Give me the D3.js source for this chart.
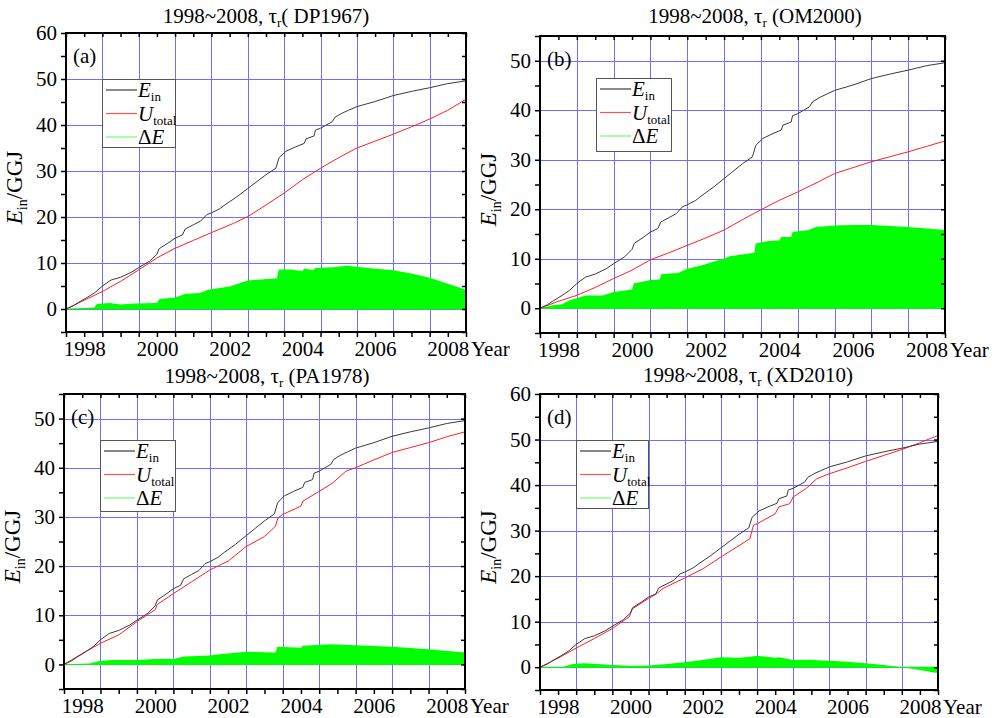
<!DOCTYPE html>
<html>
<head>
<meta charset="utf-8">
<script src="https://cdn.jsdelivr.net/npm/d3@7"></script>
<style>
  body { margin: 0; background: #fff; }
</style>
</head>
<body>
<svg id="chart" width="996" height="718"></svg>
<script>
// ---- data (year, GJ) ----
const yearLabels = [1998, 2000, 2002, 2004, 2006, 2008];
const models = ["DP1967", "OM2000", "PA1978", "XD2010"];
const tags = ["(a)", "(b)", "(c)", "(d)"];
const yTop = [60, 55, 55, 60];

// E_in is the same in every panel
const ein = [[1998.0,0],[1998.2,0.7],[1998.34,1.4],[1998.6,2.6],[1998.8,3.6],[1999.0,5.0],[1999.24,6.3],[1999.5,6.9],
  [1999.8,8.0],[2000.0,9.0],[2000.3,10.4],[2000.5,11.9],[2000.56,13.1],[2000.8,14.3],[2001.0,15.4],[2001.2,16.1],
  [2001.28,17.4],[2001.5,18.3],[2001.7,19.1],[2001.87,20.5],[2002.0,20.9],[2002.23,21.8],[2002.4,22.8],[2002.7,24.4],
  [2003.0,26.2],[2003.25,27.7],[2003.5,29.2],[2003.77,30.6],[2003.86,32.9],[2004.05,34.3],[2004.3,35.2],[2004.55,36.0],
  [2004.6,37.0],[2004.82,37.6],[2004.86,38.9],[2005.0,39.3],[2005.32,40.7],[2005.4,41.7],[2005.6,42.6],[2005.77,43.2],
  [2006.0,44.0],[2006.5,45.1],[2007.0,46.4],[2007.5,47.3],[2008.0,48.1],[2008.5,49.0],[2009.0,49.6]];

const utotalDP = [[1998,0],[1998.5,1.9],[1999,3.8],[1999.5,6.0],[2000,8.5],[2000.5,11.1],[2001,13.2],[2001.5,14.9],
  [2002,16.6],[2002.6,18.6],[2003,20.1],[2003.5,22.6],[2004,25.2],[2004.5,28.1],[2005,30.6],[2005.5,32.9],[2006,35.0],
  [2006.5,36.5],[2007,38.0],[2007.5,39.6],[2008,41.3],[2008.5,43.2],[2009,45.6]];
const dEDP = [[1998,0],[1998.5,0.2],[1998.78,0.3],[1998.85,1.1],[1999.2,1.3],[1999.5,1.0],[1999.9,1.2],[2000.5,1.3],
  [2000.57,2.2],[2001,2.5],[2001.3,3.3],[2001.7,3.5],[2001.9,4.2],[2002.5,4.9],[2003,6.2],[2003.8,6.7],[2003.85,8.6],
  [2004.2,8.6],[2004.5,8.2],[2004.55,8.8],[2004.8,8.4],[2004.85,8.9],[2005.35,9.1],[2005.72,9.4],[2006.3,8.9],
  [2007,8.4],[2007.5,7.7],[2008,6.8],[2008.5,5.5],[2009,4.2]];

const utotalOM = [[1998,0],[1998.5,1.4],[1999,2.6],[1999.5,4.2],[2000,6.0],[2000.5,7.7],[2001,9.8],[2001.5,11.2],
  [2002,12.7],[2002.5,14.2],[2003,15.8],[2003.5,17.9],[2004,19.9],[2004.5,21.8],[2005,23.5],[2005.5,25.3],[2006,27.2],
  [2006.5,28.4],[2007,29.6],[2007.5,30.6],[2008,31.6],[2008.5,32.7],[2009,33.8]];
const dEOM = [[1998,0],[1998.34,0.6],[1998.6,0.8],[1998.8,1.6],[1999,2.0],[1999.25,2.6],[1999.7,2.6],[2000,3.3],
  [2000.5,3.8],[2000.55,5.0],[2001,5.7],[2001.25,5.8],[2001.3,6.9],[2001.75,7.1],[2002,8.0],[2002.4,8.7],[2002.8,9.6],
  [2003,10.0],[2003.15,10.5],[2003.82,11.2],[2003.86,13.1],[2004.2,13.6],[2004.5,13.7],[2004.55,14.4],[2004.82,14.4],
  [2004.86,15.4],[2005.3,15.8],[2005.5,16.4],[2006,16.7],[2006.5,16.8],[2007,16.8],[2007.5,16.6],[2008,16.4],
  [2008.5,16.1],[2009,15.8]];

const utotalPA = [[1998,0],[1998.43,1.9],[1999,4.3],[1999.5,6.0],[2000,8.7],[2000.5,11.1],[2000.56,12.2],[2001,14.4],
  [2001.5,16.8],[2002,19.2],[2002.5,21.0],[2003,24.0],[2003.5,26.0],[2003.8,28.1],[2003.87,29.8],[2004,30.5],
  [2004.5,32.2],[2004.55,33.2],[2005,35.2],[2005.37,36.9],[2005.73,39.3],[2006,40.0],[2006.5,41.6],[2007,43.1],
  [2007.5,44.1],[2008,45.1],[2008.5,46.3],[2009,47.3]];
const dEPA = [[1998,0],[1998.7,0.2],[1998.98,0.7],[1999.3,0.9],[2000,0.9],[2000.5,1.1],[2001,1.1],[2001.3,1.6],
  [2002,1.8],[2002.2,2.0],[2003,2.6],[2003.8,2.4],[2003.85,3.6],[2004.5,3.4],[2004.55,3.8],[2004.8,3.9],[2005.3,4.1],
  [2006,3.9],[2007,3.6],[2008,3.1],[2009,2.4]];

const utotalXD = [[1998,0],[1998.5,2.0],[1999,4.2],[1999.5,6.3],[2000,8.5],[2000.47,11.1],[2000.55,12.8],[2001,15.1],
  [2001.2,16.0],[2001.4,17.3],[2002,19.6],[2002.5,21.6],[2003,24.2],[2003.8,28.2],[2003.9,31.2],[2004,31.5],
  [2004.5,33.7],[2004.6,35.2],[2004.9,35.9],[2005,37.4],[2005.35,39.2],[2005.65,41.4],[2006,42.5],[2006.5,43.8],
  [2007,45.2],[2007.5,46.5],[2008,47.8],[2008.5,49.3],[2009,50.9]];
const dEXD = [[1998,0],[1998.6,0],[1998.9,0.7],[1999.2,0.9],[1999.6,0.7],[2000,0.5],[2000.5,0.3],[2001,0.4],
  [2001.5,0.7],[2002,1.1],[2002.5,1.6],[2003,2.2],[2003.5,2.1],[2003.8,2.3],[2004,2.5],[2004.5,2.1],[2004.6,2.2],
  [2005,1.6],[2005.5,1.6],[2006,1.4],[2006.5,1.2],[2007,0.9],[2007.5,0.5],[2008,0.0],[2008.5,-0.6],[2009,-1.3]];

const utotals = [utotalDP, utotalOM, utotalPA, utotalXD];
const deltas = [dEDP, dEOM, dEPA, dEXD];

// ---- layout ----
const boxes = [
  {left: 66, right: 466, top: 33, bottom: 332, titleX: 266, titleY: 23, leg: [102, 79, 73, 68]},
  {left: 540, right: 945, top: 36, bottom: 333, titleX: 755, titleY: 23, leg: [596, 78, 75, 73]},
  {left: 64, right: 465, top: 394, bottom: 689, titleX: 267, titleY: 383, leg: [100, 440, 75, 71]},
  {left: 540, right: 938, top: 394, bottom: 690, titleX: 748, titleY: 382, leg: [576, 440, 72, 68]}
];
const gridColor = "#6e6eff";
const colEin = "#3a3a3a", colU = "#ff2020", colDE = "#00ff00";
const FONT = "Liberation Serif";
const crisp = v => Math.round(v) + 0.5;

const svg = d3.select("#chart");

function label(parent, size) {
  return parent.append("text").style("font-family", FONT).style("font-size", size + "px");
}

boxes.forEach((b, i) => {
  const x = d3.scaleLinear().domain([1998, 2009]).range([b.left, b.right]);
  const y = d3.scaleLinear().domain([-5, yTop[i]]).range([b.bottom, b.top]);
  const g = svg.append("g");

  g.append("clipPath").attr("id", "clip" + i)
    .append("rect").attr("x", b.left).attr("y", b.top)
    .attr("width", b.right - b.left).attr("height", b.bottom - b.top);

  // grid
  g.append("g").selectAll("line").data(d3.range(1999, 2009)).enter().append("line")
    .attr("x1", d => crisp(x(d))).attr("x2", d => crisp(x(d))).attr("y1", b.top).attr("y2", b.bottom)
    .attr("stroke", gridColor).attr("stroke-width", 1);
  g.append("g").selectAll("line").data(d3.range(0, yTop[i] + 0.1, 10)).enter().append("line")
    .attr("x1", b.left).attr("x2", b.right).attr("y1", d => crisp(y(d))).attr("y2", d => crisp(y(d)))
    .attr("stroke", gridColor).attr("stroke-width", 1);

  const plot = g.append("g").attr("clip-path", "url(#clip" + i + ")");

  // delta E filled area
  plot.append("path").datum(deltas[i])
    .attr("d", d3.area().x(d => x(d[0])).y0(y(0)).y1(d => y(d[1])))
    .attr("fill", colDE);
  plot.append("line").attr("x1", b.left).attr("x2", b.right).attr("y1", y(0)).attr("y2", y(0))
    .attr("stroke", colDE).attr("stroke-width", 1);

  const line = d3.line().x(d => x(d[0])).y(d => y(d[1]));
  plot.append("path").datum(utotals[i]).attr("d", line)
    .attr("fill", "none").attr("stroke", colU).attr("stroke-width", 1);
  plot.append("path").datum(ein).attr("d", line)
    .attr("fill", "none").attr("stroke", colEin).attr("stroke-width", 1);

  // axes
  const halfYears = d3.range(1998, 2009.01, 0.5);
  const fives = d3.range(-5, yTop[i] + 0.1, 5);
  const styleAxis = sel => {
    sel.select(".domain").remove();
    sel.selectAll(".tick line").attr("stroke", "#000").attr("stroke-width", 1.5);
    sel.selectAll(".tick text").attr("fill", "#000")
      .style("font-family", FONT).style("font-size", "21px");
  };
  g.append("g").attr("transform", `translate(0,${b.bottom})`)
    .call(d3.axisBottom(x).tickValues(halfYears).tickSize(5).tickFormat(""))
    .call(styleAxis);
  g.append("g").attr("transform", `translate(0,${b.bottom})`)
    .call(d3.axisBottom(x).tickValues(yearLabels.map(v => v + 0.5)).tickSize(0).tickPadding(9)
      .tickFormat(d => Math.floor(d)))
    .call(styleAxis);
  g.append("g").attr("transform", `translate(0,${b.top})`)
    .call(d3.axisTop(x).tickValues(halfYears).tickSize(-4).tickFormat(""))
    .call(styleAxis);
  g.append("g").attr("transform", `translate(${b.left},0)`)
    .call(d3.axisLeft(y).tickValues(fives).tickSize(5).tickPadding(4)
      .tickFormat(d => d % 10 === 0 ? d : ""))
    .call(styleAxis);
  g.append("g").attr("transform", `translate(${b.right},0)`)
    .call(d3.axisRight(y).tickValues(fives).tickSize(-4).tickFormat(""))
    .call(styleAxis);

  g.append("rect").attr("x", b.left).attr("y", b.top)
    .attr("width", b.right - b.left).attr("height", b.bottom - b.top)
    .attr("fill", "none").attr("stroke", "#000").attr("stroke-width", 2);

  label(g, 21).attr("x", b.right + 5).attr("y", b.bottom + 9).attr("dy", "0.71em").text("Year");

  // y label
  const yl = label(g, 23)
    .attr("transform", `translate(${b.left - 44},${(b.top + b.bottom) / 2 + 5}) rotate(-90)`)
    .attr("text-anchor", "middle");
  yl.append("tspan").style("font-style", "italic").text("E");
  yl.append("tspan").attr("dy", 5).style("font-size", "14px").text("in");
  yl.append("tspan").attr("dy", -5).text("/GGJ");

  // title
  const t = label(g, 21).attr("x", b.titleX).attr("y", b.titleY).attr("text-anchor", "middle");
  t.append("tspan").text("1998~2008, τ");
  t.append("tspan").attr("dy", 4).style("font-size", "13px").text("r");
  t.append("tspan").attr("dy", -4).text(i === 0 ? "( " + models[i] + ")" : " (" + models[i] + ")");

  // panel tag
  label(g, 21).attr("x", b.left + 7).attr("y", b.top + 30).text(tags[i]);

  // legend
  const [lx, ly, lw, lh] = b.leg;
  g.append("rect").attr("x", lx + 0.5).attr("y", ly + 0.5).attr("width", lw).attr("height", lh)
    .attr("fill", "#fff").attr("stroke", "#555").attr("stroke-width", 1);
  const items = [
    {c: colEin, main: "E", sub: "in", pre: ""},
    {c: "#ff5050", main: "U", sub: "total", pre: ""},
    {c: "#70ff70", main: "E", sub: "", pre: "Δ"}
  ];
  items.forEach((it, k) => {
    const yy = ly + 11 + k * 23.5;
    g.append("line").attr("x1", lx + 4).attr("x2", lx + 35).attr("y1", yy).attr("y2", yy)
      .attr("stroke", it.c).attr("stroke-width", 1.2);
    const tx = label(g, 21).attr("x", lx + 36).attr("y", yy + 7);
    if (it.pre) tx.append("tspan").text(it.pre);
    tx.append("tspan").style("font-style", "italic").text(it.main);
    if (it.sub) tx.append("tspan").attr("dy", 4).style("font-size", "13px").text(it.sub);
  });
});
</script>
</body>
</html>
